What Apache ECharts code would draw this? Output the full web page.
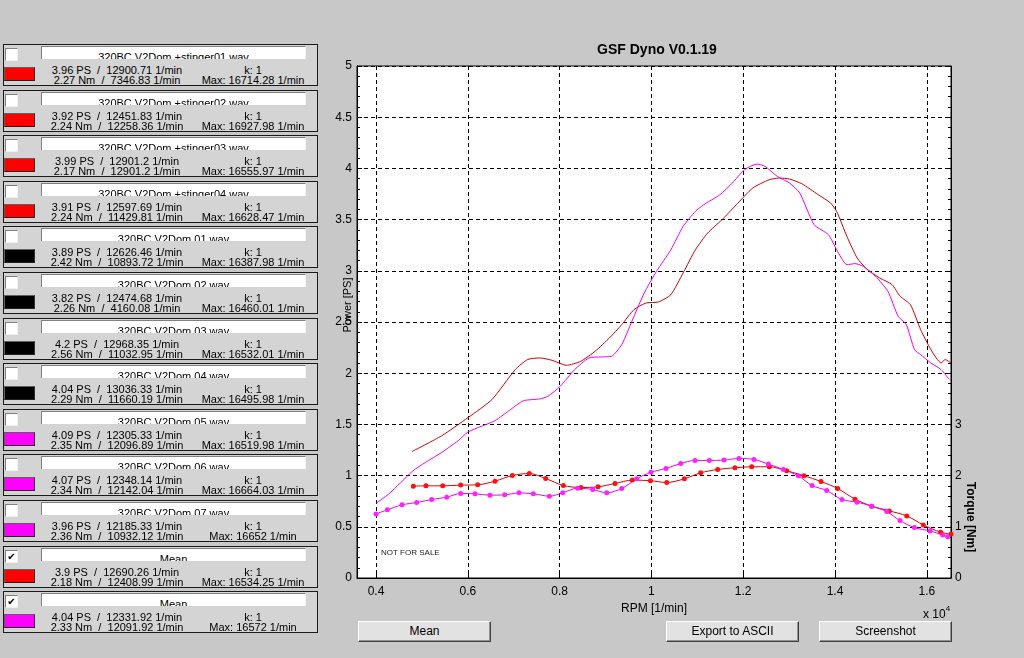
<!DOCTYPE html>
<html><head><meta charset="utf-8">
<script src="https://cdn.jsdelivr.net/npm/echarts@6/dist/echarts.min.js"></script>
<style>
html,body{margin:0;padding:0;width:1024px;height:658px;overflow:hidden;background:#c8c8c8;font-family:"Liberation Sans",Arial,sans-serif;color:#000;}
#chart{position:absolute;left:0;top:0;width:1024px;height:658px;z-index:1;}
.box{position:absolute;left:3px;width:313px;height:40px;border:1px solid #1a1a1a;background:#d4d4d4;overflow:hidden;z-index:2;}
.chk{position:absolute;left:1px;top:3px;width:13px;height:13px;box-sizing:border-box;background:#fff;border-top:1px solid #808080;border-left:1px solid #808080;border-right:1px solid #f0f0f0;border-bottom:1px solid #f0f0f0;font-size:10px;line-height:11px;text-align:center;font-family:"DejaVu Sans",sans-serif;}
.sw{position:absolute;left:0;top:22px;width:31px;height:14px;box-sizing:border-box;border:1px solid #606060;border-right-color:#303030;border-bottom-color:#202020;}
.fld{position:absolute;left:37px;top:1px;width:265px;height:13px;box-sizing:border-box;background:#fff;border-top:1px solid #808080;border-left:1px solid #808080;border-right:1px solid #f4f4f4;overflow:hidden;font-size:11px;line-height:12px;padding-top:4px;text-align:center;white-space:pre;}
.l{position:absolute;font-size:11px;line-height:11px;text-align:center;white-space:pre;}
.btn{position:absolute;top:621px;height:21px;width:133px;box-sizing:border-box;background:#e2e2e2;border-top:1px solid #fff;border-left:1px solid #fff;border-right:1px solid #404040;border-bottom:1px solid #404040;box-shadow:inset -1px -1px #909090;font-size:12px;text-align:center;line-height:19px;z-index:2;}
</style></head>
<body>
<div id="chart"></div>
<div id="panel"></div>
<div class="btn" style="left:358px">Mean</div>
<div class="btn" style="left:666px">Export to ASCII</div>
<div class="btn" style="left:819px">Screenshot</div>
<script>
// ---- legend panel data ----
const fileNames = ["320BC V2Dom +stinger01.wav","320BC V2Dom +stinger02.wav","320BC V2Dom +stinger03.wav","320BC V2Dom +stinger04.wav","320BC V2Dom 01.wav","320BC V2Dom 02.wav","320BC V2Dom 03.wav","320BC V2Dom 04.wav","320BC V2Dom 05.wav","320BC V2Dom 06.wav","320BC V2Dom 07.wav","Mean","Mean"];
const peakPower = ["3.96","3.92","3.99","3.91","3.89","3.82","4.2","4.04","4.09","4.07","3.96","3.9","4.04"];
const peakPowerRpm = ["12900.71","12451.83","12901.2","12597.69","12626.46","12474.68","12968.35","13036.33","12305.33","12348.14","12185.33","12690.26","12331.92"];
const peakTorque = ["2.27","2.24","2.17","2.24","2.42","2.26","2.56","2.29","2.35","2.34","2.36","2.18","2.33"];
const peakTorqueRpm = ["7346.83","12258.36","12901.2","11429.81","10893.72","4160.08","11032.95","11660.19","12096.89","12142.04","10932.12","12408.99","12091.92"];
const maxRpm = ["16714.28","16927.98","16555.97","16628.47","16387.98","16460.01","16532.01","16495.98","16519.98","16664.03","16652","16534.25","16572"];
const kFactor = ["1","1","1","1","1","1","1","1","1","1","1","1","1"];
const swatchColors = ["#ff0000","#ff0000","#ff0000","#ff0000","#000000","#000000","#000000","#000000","#ff00ff","#ff00ff","#ff00ff","#ff0000","#ff00ff"];
const checked = [false,false,false,false,false,false,false,false,false,false,false,true,true];

// ---- curve data: [rpm, value] ----
const redPower = [[4785,1.235],[5427,1.388],[6007,1.567],[6525,1.742],[7033,2.035],[7300,2.133],[7568,2.149],[7836,2.126],[8148,2.077],[8460,2.116],[8773,2.214],[9085,2.344],[9353,2.474],[9621,2.621],[9888,2.686],[10156,2.696],[10424,2.767],[10691,2.979],[10959,3.206],[11226,3.369],[11538,3.499],[11851,3.645],[12207,3.808],[12564,3.889],[12787,3.906],[13010,3.896],[13278,3.850],[13635,3.743],[13902,3.662],[14036,3.580],[14259,3.336],[14483,3.125],[14706,3.011],[14974,2.930],[15242,2.865],[15420,2.751],[15643,2.669],[15866,2.425],[16089,2.230],[16311,2.100],[16400,2.133],[16527,2.100]];
const magentaPower = [[4000,0.729],[4268,0.817],[4535,0.930],[4803,1.046],[5071,1.127],[5427,1.225],[5784,1.339],[6007,1.427],[6230,1.470],[6587,1.535],[6944,1.649],[7211,1.731],[7568,1.749],[7747,1.775],[8014,1.872],[8327,2.035],[8639,2.149],[8907,2.159],[9130,2.165],[9353,2.279],[9621,2.556],[9843,2.783],[10111,2.995],[10424,3.206],[10691,3.434],[10959,3.580],[11137,3.645],[11494,3.743],[11762,3.857],[12029,3.987],[12297,4.042],[12475,4.020],[12742,3.922],[13010,3.857],[13233,3.759],[13545,3.450],[13857,3.353],[14036,3.206],[14259,3.060],[14438,3.070],[14616,3.044],[14884,2.946],[15152,2.800],[15375,2.556],[15553,2.474],[15732,2.230],[15866,2.181],[16089,2.100],[16311,2.035],[16489,1.938]];
const redTorque = [[4813,1.794],[5089,1.800],[5453,1.800],[5845,1.814],[6215,1.820],[6593,1.892],[6970,2.002],[7340,2.041],[7697,1.943],[8081,1.806],[8466,1.767],[8837,1.781],[9207,1.846],[9584,1.912],[9980,1.900],[10333,1.865],[10718,1.937],[11074,2.055],[11444,2.119],[11821,2.153],[12185,2.172],[12569,2.172],[12947,2.094],[13324,1.996],[13695,1.885],[14058,1.748],[14436,1.540],[14799,1.403],[15183,1.311],[15562,1.213],[15924,1.037],[16302,0.894],[16527,0.857]];
const magentaTorque = [[4000,1.252],[4247,1.331],[4566,1.429],[4886,1.474],[5213,1.533],[5540,1.579],[5845,1.650],[6157,1.644],[6484,1.618],[6804,1.624],[7115,1.663],[7427,1.644],[7776,1.598],[8067,1.663],[8394,1.755],[8721,1.728],[9026,1.663],[9353,1.748],[9680,1.937],[9990,2.065],[10318,2.139],[10638,2.237],[10950,2.296],[11262,2.296],[11582,2.303],[11908,2.335],[12235,2.315],[12547,2.225],[12874,2.119],[13200,1.996],[13499,1.806],[13819,1.709],[14152,1.532],[14479,1.481],[14799,1.403],[15126,1.297],[15416,1.121],[15728,0.984],[16070,0.920],[16346,0.841],[16455,0.808]];

// ---- axis settings ----
const rpmMin = 3586, rpmMax = 16527;
const powerMin = 0, powerMax = 5, powerStep = 0.5;
const torqueMin = 0, torqueMax = 10, torqueStep = 1, torqueLabelMax = 3;

// build legend panel
const panel = document.getElementById('panel');
let html = '';
for (let i = 0; i < fileNames.length; i++) {
  const top = Math.round(44 + i * 45.6);
  html += '<div class="box" style="top:' + top + 'px">' +
    '<div class="chk">' + (checked[i] ? '\u2714' : '') + '</div>' +
    '<div class="sw" style="background:' + swatchColors[i] + '"></div>' +
    '<div class="fld">' + fileNames[i] + '</div>' +
    '<div class="l" style="left:35px;width:156px;top:20px">' + peakPower[i] + ' PS  /  ' + peakPowerRpm[i] + ' 1/min</div>' +
    '<div class="l" style="left:35px;width:156px;top:30px">' + peakTorque[i] + ' Nm  /  ' + peakTorqueRpm[i] + ' 1/min</div>' +
    '<div class="l" style="left:190px;width:118px;top:20px">k: ' + kFactor[i] + '</div>' +
    '<div class="l" style="left:190px;width:118px;top:30px">Max: ' + maxRpm[i] + ' 1/min</div>' +
    '</div>';
}
panel.innerHTML = html;

const chart = echarts.init(document.getElementById('chart'), null, {renderer: 'canvas'});
const FONT = '"Liberation Sans", Arial, sans-serif';
const dash = {color: '#000', width: 1, type: [4, 3]};
chart.setOption({
  animation: false,
  backgroundColor: 'transparent',
  textStyle: {fontFamily: FONT},
  title: {
    text: 'GSF Dyno V0.1.19', left: 652, top: 38, textAlign: 'center',
    textStyle: {fontSize: 14, fontWeight: 'bold', color: '#000', fontFamily: FONT}
  },
  grid: {left: 357, top: 66, width: 594, height: 512, show: true, backgroundColor: '#fff', borderColor: '#000', borderWidth: 1},
  xAxis: {
    type: 'value', min: rpmMin, max: rpmMax, splitNumber: 6,
    name: 'RPM [1/min]', nameLocation: 'middle', nameGap: 25,
    nameTextStyle: {fontSize: 12, color: '#000', fontFamily: FONT},
    axisLine: {show: true, lineStyle: {color: '#000', width: 1}},
    axisTick: {show: true, inside: true, length: 5, lineStyle: {color: '#000'}},
    axisLabel: {
      margin: 8, fontSize: 12, color: '#000', fontFamily: FONT,
      showMinLabel: false, showMaxLabel: false,
      formatter: v => (Math.abs(v % 2000) < 1e-6 ? String(v / 10000) : '')
    },
    splitLine: {show: true, lineStyle: dash}
  },
  yAxis: [{
    type: 'value', min: powerMin, max: powerMax, interval: powerStep, position: 'left',
    axisLine: {show: true, lineStyle: {color: '#000', width: 1}},
    axisTick: {show: true, inside: true, length: 5, lineStyle: {color: '#000'}},
    minorTick: {show: true, splitNumber: 5, length: 3, lineStyle: {color: '#000'}},
    axisLabel: {margin: 5, fontSize: 12, color: '#000', fontFamily: FONT},
    splitLine: {show: true, lineStyle: dash}
  }, {
    type: 'value', min: torqueMin, max: torqueMax, interval: torqueStep, position: 'right',
    axisLine: {show: true, lineStyle: {color: '#000', width: 1}},
    axisTick: {show: true, inside: true, length: 5, lineStyle: {color: '#000'}},
    minorTick: {show: true, splitNumber: 5, length: 3, lineStyle: {color: '#000'}},
    axisLabel: {margin: 4, fontSize: 12, color: '#000', fontFamily: FONT,
      formatter: v => (v <= torqueLabelMax ? String(v) : '')},
    splitLine: {show: false}
  }],
  graphic: [
    {type: 'text', x: 348, y: 305, rotation: Math.PI / 2, style: {text: 'Power [PS]', fontSize: 11, fill: '#000', fontFamily: FONT, align: 'center', verticalAlign: 'middle'}, z: 10},
    {type: 'text', x: 970, y: 517, rotation: -Math.PI / 2, style: {text: 'Torque [Nm]', fontSize: 12, fontWeight: 'bold', fill: '#000', fontFamily: FONT, align: 'center', verticalAlign: 'middle'}, z: 10},
    {type: 'text', x: 923, y: 605, style: {text: '{a|x 10}{b|4}', rich: {a: {fontSize: 12, fill: '#000', fontFamily: FONT, verticalAlign: 'bottom'}, b: {fontSize: 8, fill: '#000', fontFamily: FONT, padding: [0, 0, 8, 0]}}}, z: 10},
    {type: 'text', x: 381, y: 553, style: {text: 'NOT FOR SALE', fontSize: 8, fill: '#222', fontFamily: FONT, verticalAlign: 'middle'}, z: 10}
  ],
  series: [
    {name: 'Power red', type: 'line', data: redPower, yAxisIndex: 0, showSymbol: false, smooth: 0.2, lineStyle: {color: '#d00000', width: 1}, itemStyle: {color: '#d00000'}, z: 3},
    {name: 'Power magenta', type: 'line', data: magentaPower, yAxisIndex: 0, showSymbol: false, smooth: 0.2, lineStyle: {color: '#ee00ee', width: 1}, itemStyle: {color: '#ee00ee'}, z: 3},
    {name: 'Torque red', type: 'line', data: redTorque, yAxisIndex: 1, symbol: 'circle', symbolSize: 5, showSymbol: true, smooth: 0.3, lineStyle: {color: '#dd0000', width: 1}, itemStyle: {color: '#ff1010'}, z: 4},
    {name: 'Torque magenta', type: 'line', data: magentaTorque, yAxisIndex: 1, symbol: 'circle', symbolSize: 5, showSymbol: true, smooth: 0.3, lineStyle: {color: '#ee00ee', width: 1}, itemStyle: {color: '#ff22ff'}, z: 4}
  ]
});
</script>
</body></html>
